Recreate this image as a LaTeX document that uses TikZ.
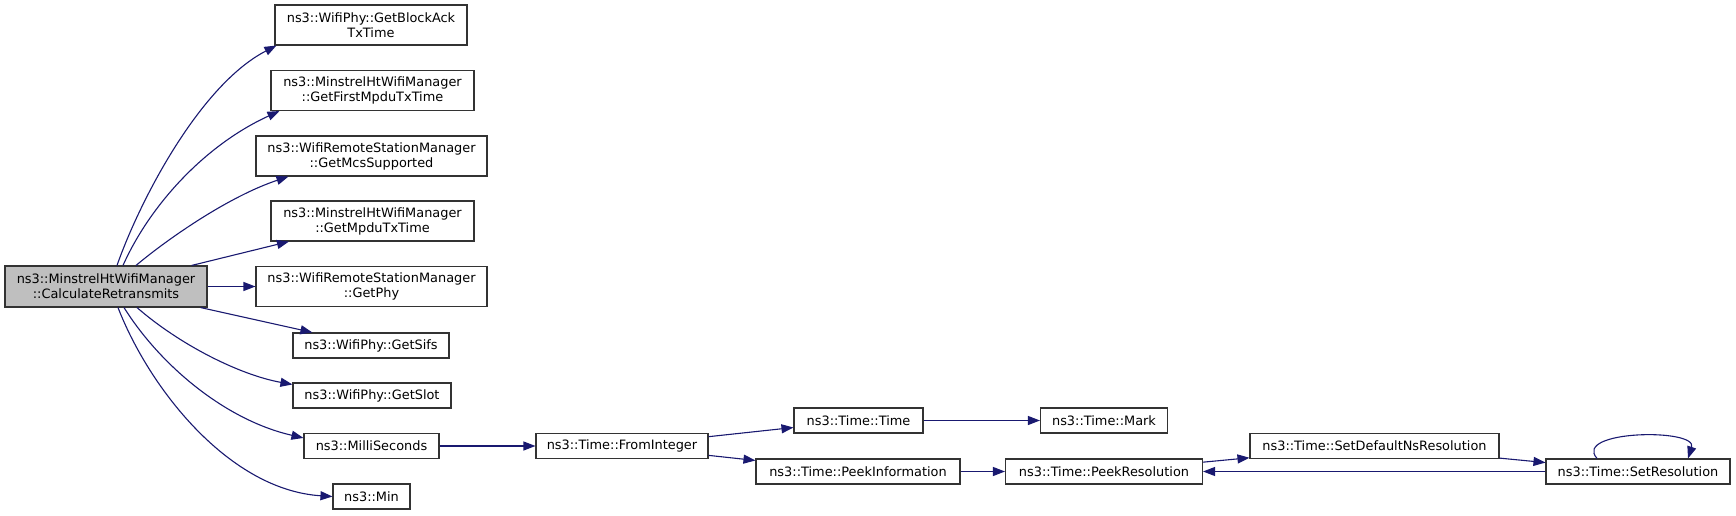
\documentclass[tikz,border=0pt]{standalone}
\usepackage{fontspec}
\setmainfont{DejaVu Sans}
\usetikzlibrary{arrows.meta}
\definecolor{edgec}{HTML}{191970}
\definecolor{mainfill}{HTML}{BFBFBF}
\definecolor{boxline}{HTML}{333333}
\begin{document}
\begin{tikzpicture}[x=1pt,y=-1pt,
  fn/.style={draw=boxline, line width=1.1pt, fill=white, inner sep=0pt, align=center,
             font=\fontsize{12.9}{15}\selectfont},
  two/.style={minimum height=40pt},
  one/.style={minimum height=25pt},
  call/.style={draw=edgec, line width=1.1pt, -{Triangle[length=12pt,width=9pt]}}]
\useasboundingbox (0,0) rectangle (1736,516);
% nodes
\node[fn, two, fill=mainfill, minimum width=202pt, minimum height=41pt] (main) at (106,286.5) {ns3::MinstrelHtWifiManager\\::CalculateRetransmits};
\node[fn, two, minimum width=192pt] (ba)  at (371,25)    {ns3::WifiPhy::GetBlockAck\\TxTime};
\node[fn, two, minimum width=203pt] (fm)  at (372.5,90.5) {ns3::MinstrelHtWifiManager\\::GetFirstMpduTxTime};
\node[fn, two, minimum width=231pt] (mcs) at (371.5,156) {ns3::WifiRemoteStationManager\\::GetMcsSupported};
\node[fn, two, minimum width=203pt] (mp)  at (372.5,221) {ns3::MinstrelHtWifiManager\\::GetMpduTxTime};
\node[fn, two, minimum width=231pt] (phy) at (371.5,286.5) {ns3::WifiRemoteStationManager\\::GetPhy};
\node[fn, one, minimum width=156pt] (sifs) at (371,345.5) {ns3::WifiPhy::GetSifs};
\node[fn, one, minimum width=158pt] (slot) at (372,395.5) {ns3::WifiPhy::GetSlot};
\node[fn, one, minimum width=135pt] (milli) at (371.5,446) {ns3::MilliSeconds};
\node[fn, one, minimum width=77pt] (min) at (371.5,496.5) {ns3::Min};
\node[fn, one, minimum width=172pt] (fi) at (622,446) {ns3::Time::FromInteger};
\node[fn, one, minimum width=129pt] (tt) at (858.5,420.5) {ns3::Time::Time};
\node[fn, one, minimum width=127pt] (mark) at (1104,420.5) {ns3::Time::Mark};
\node[fn, one, minimum width=204pt] (pi) at (858,471.5) {ns3::Time::PeekInformation};
\node[fn, one, minimum width=197pt] (pr) at (1104,471.5) {ns3::Time::PeekResolution};
\node[fn, one, minimum width=249pt] (sd) at (1374.5,446) {ns3::Time::SetDefaultNsResolution};
\node[fn, one, minimum width=184pt] (sr) at (1638,471.5) {ns3::Time::SetResolution};
% edges from main
\draw[call] ([xshift=11pt]main.north) .. controls (140,200) and (200,85) .. ([xshift=2pt]ba.south west);
\draw[call] ([xshift=17pt]main.north) .. controls (150,205) and (205,145) .. ([xshift=9pt]fm.south west);
\draw[call] ([xshift=30pt]main.north) .. controls (170,237) and (230,196) .. ([xshift=33pt]mcs.south west);
\draw[call] (main) -- (mp);
\draw[call] (main) -- (phy);
\draw[call] (main) -- (sifs);
\draw[call] ([xshift=31pt]main.south) .. controls (180,345) and (240,375) .. ([yshift=-2pt]slot.north west);
\draw[call] ([xshift=18pt]main.south) .. controls (160,365) and (225,420) .. ([yshift=-5pt]milli.north west);
\draw[call] ([xshift=12pt]main.south) .. controls (150,390) and (230,490) .. (min.west);
% chain
\draw[call] (milli) -- (fi);
\draw[call] (fi) -- (tt);
\draw[call] (fi) -- (pi);
\draw[call] (tt) -- (mark);
\draw[call] (pi) -- (pr);
\draw[call] (pr) -- (sd);
\draw[call] (sd) -- (sr);
\draw[call] (sr) -- (pr);
\draw[call] ([xshift=-41pt]sr.north) .. controls (1572,430) and (1698,428) .. ([xshift=50pt]sr.north);
\end{tikzpicture}
\end{document}
